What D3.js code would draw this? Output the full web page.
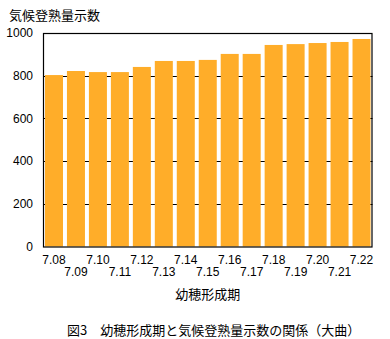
<!DOCTYPE html>
<html>
<head>
<meta charset="utf-8">
<script src="https://cdn.jsdelivr.net/npm/d3@7"></script>
<style>
body { margin: 0; background: #fff; }
svg { display: block; }
text { font-family: "Liberation Sans", Arial, sans-serif; fill: #000; }
.jp { font-family: "Noto Sans CJK JP", sans-serif; }
</style>
</head>
<body>
<div id="chart"></div>
<script>
// 幼穂形成期ごとの気候登熟量示数
var dates = ["7.08","7.09","7.10","7.11","7.12","7.13","7.14","7.15","7.16","7.17","7.18","7.19","7.20","7.21","7.22"]
var values = [803, 822, 817, 817, 841, 869, 869, 874, 902, 902, 944, 948, 953, 958, 972]
var yTicks = [0, 200, 400, 600, 800, 1000]

var width = 390
var height = 339
var margin = {top: 33, bottom: 92.5, left: 43, right: 17.5}

var svg = d3.select("#chart").append("svg")
  .attr("width", width)
  .attr("height", height)

var x = d3.scaleBand()
  .domain(dates)
  .range([margin.left, width - margin.right])
  .paddingInner(0.18)
  .paddingOuter(0.09)

var y = d3.scaleLinear()
  .domain([0, 1000])
  .range([height - margin.bottom, margin.top])

// gridlines behind the bars
svg.append("g")
  .selectAll("line")
  .data(yTicks.slice(1, -1))
  .join("line")
  .attr("x1", margin.left)
  .attr("x2", width - margin.right)
  .attr("y1", d => Math.round(y(d)) + 0.5)
  .attr("y2", d => Math.round(y(d)) + 0.5)
  .attr("stroke", "#000")
  .attr("stroke-width", 1)

svg.append("g")
  .attr("fill", "#FFAD29")
  .selectAll("rect")
  .data(values)
  .join("rect")
  .attr("x", (d, i) => x(dates[i]))
  .attr("y", d => y(d))
  .attr("width", x.bandwidth())
  .attr("height", d => y(0) - y(d))

// frame
svg.append("rect")
  .attr("x", margin.left + 0.5)
  .attr("y", margin.top + 0.5)
  .attr("width", width - margin.right - margin.left - 1)
  .attr("height", y(0) - margin.top)
  .attr("fill", "none")
  .attr("stroke", "#000")
  .attr("stroke-width", 1.2)

function yAxis(g) {
  g.attr("transform", `translate(${margin.left},0)`)
    .call(d3.axisLeft(y).tickValues(yTicks).tickFormat(d3.format("d")).tickSize(0).tickPadding(10))
    .attr("font-size", "12px")
    .call(g => g.select(".domain").remove())
}

function xAxis(g) {
  g.attr("transform", `translate(0,${y(0)})`)
    .call(d3.axisBottom(x).tickSize(0).tickPadding(10))
    .attr("font-size", "12px")
    .call(g => g.select(".domain").remove())
  g.selectAll(".tick text")
    .attr("dy", (d, i) => i % 2 == 0 ? "0.6em" : "1.6em")
}

svg.append("g").call(yAxis)
svg.append("g").call(xAxis)

svg.append("text")
  .attr("class", "jp")
  .attr("x", 9)
  .attr("y", 20)
  .attr("font-size", "13px")
  .text("気候登熟量示数")

svg.append("text")
  .attr("class", "jp")
  .attr("x", (margin.left + width - margin.right) / 2)
  .attr("y", 299)
  .attr("text-anchor", "middle")
  .attr("font-size", "13px")
  .text("幼穂形成期")

svg.append("text")
  .attr("class", "jp")
  .attr("x", 67)
  .attr("y", 335)
  .attr("font-size", "13px")
  .text("図3　幼穂形成期と気候登熟量示数の関係（大曲）")
</script>
</body>
</html>
